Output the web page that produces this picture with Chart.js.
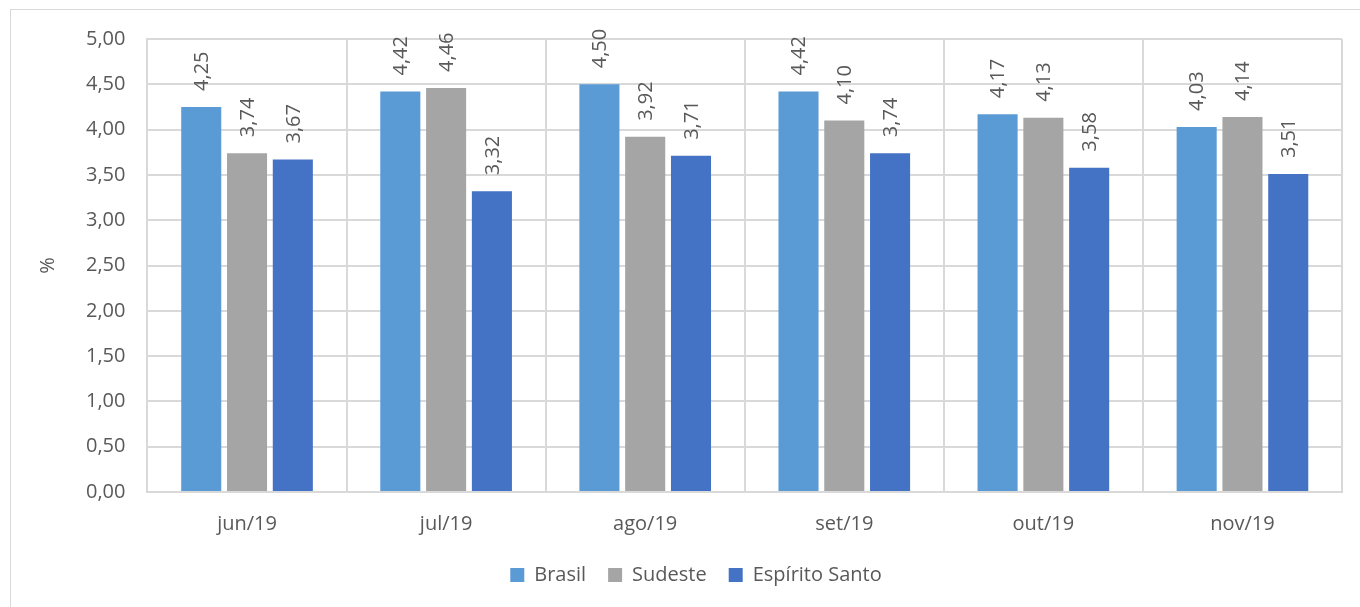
<!DOCTYPE html>
<html>
<head>
<meta charset="utf-8">
<script src="https://cdn.jsdelivr.net/npm/chart.js@4"></script>
<style>
  html, body { margin: 0; padding: 0; background: #fff; }
  #wrap { position: relative; width: 1360px; height: 607px; overflow: hidden; }
  #frame { position: absolute; left: 10px; top: 9px; width: 1400px; height: 700px;
           border: 1px solid #d9d9d9; box-sizing: border-box; }
  canvas { position: absolute; left: 0; top: 0; }
</style>
</head>
<body>
<div id="wrap">
  <div id="frame"></div>
  <canvas id="chart" width="1360" height="607"></canvas>
</div>
<script>
  // Dados
  const months = ["jun/19", "jul/19", "ago/19", "set/19", "out/19", "nov/19"];
  const brasil = [4.25, 4.42, 4.5, 4.42, 4.17, 4.03];
  const sudeste = [3.74, 4.46, 3.92, 4.1, 4.13, 4.14];
  const espiritoSanto = [3.67, 3.32, 3.71, 3.74, 3.58, 3.51];

  const fontFamily = "'Open Sans', 'Liberation Sans', sans-serif";
  const fontSize = 20;
  const textColor = "#595959";
  const gridColor = "#d9d9d9";

  function fmt(v) {
    return v.toFixed(2).replace(".", ",");
  }

  // rotated value labels above each bar
  const barLabels = {
    id: "barLabels",
    afterLayout(chart) {
      // nudge legend a bit to the right, like the original
      chart.legend.left += 7;
      chart.legend.right += 7;
    },
    afterDatasetsDraw(chart) {
      const ctx = chart.ctx;
      ctx.save();
      ctx.fillStyle = textColor;
      ctx.font = fontSize + "px " + fontFamily;
      ctx.textAlign = "left";
      ctx.textBaseline = "middle";
      chart.data.datasets.forEach((ds, i) => {
        chart.getDatasetMeta(i).data.forEach((bar, j) => {
          ctx.save();
          ctx.translate(bar.x + 1, bar.y - 16);
          ctx.rotate(-Math.PI / 2);
          ctx.fillText(fmt(ds.data[j]), 0, 0);
          ctx.restore();
        });
      });
      ctx.restore();
    },
  };

  new Chart(document.getElementById("chart"), {
    type: "bar",
    data: {
      labels: months,
      datasets: [
        { label: "Brasil", data: brasil, backgroundColor: "#5b9bd5" },
        { label: "Sudeste", data: sudeste, backgroundColor: "#a5a5a5" },
        { label: "Espírito Santo", data: espiritoSanto, backgroundColor: "#4472c4" },
      ],
    },
    options: {
      responsive: false,
      animation: false,
      categoryPercentage: 0.69,
      barPercentage: 0.875,
      layout: { padding: { left: 36, right: 18, top: 39, bottom: 12 } },
      plugins: {
        legend: {
          position: "bottom",
          labels: {
            color: textColor,
            font: { family: fontFamily, size: fontSize },
            boxWidth: 14,
            boxHeight: 14,
            padding: 22,
          },
        },
        tooltip: { enabled: false },
      },
      scales: {
        x: {
          grid: { color: gridColor, lineWidth: 2, offset: true, tickLength: 0 },
          border: { color: gridColor, width: 2 },
          ticks: { color: textColor, font: { family: fontFamily, size: fontSize }, padding: 20 },
          afterFit(scale) {
            scale.height -= 13;
          },
        },
        y: {
          min: 0,
          max: 5,
          grid: { color: gridColor, lineWidth: 2, tickLength: 0 },
          border: { color: gridColor, width: 2 },
          ticks: {
            stepSize: 0.5,
            color: textColor,
            font: { family: fontFamily, size: fontSize },
            padding: 22,
            callback: (v) => fmt(v),
          },
          title: {
            display: true,
            text: "%",
            color: textColor,
            font: { family: fontFamily, size: fontSize },
            padding: { top: 0, bottom: 4 },
          },
        },
      },
    },
    plugins: [barLabels],
  });
</script>
</body>
</html>
